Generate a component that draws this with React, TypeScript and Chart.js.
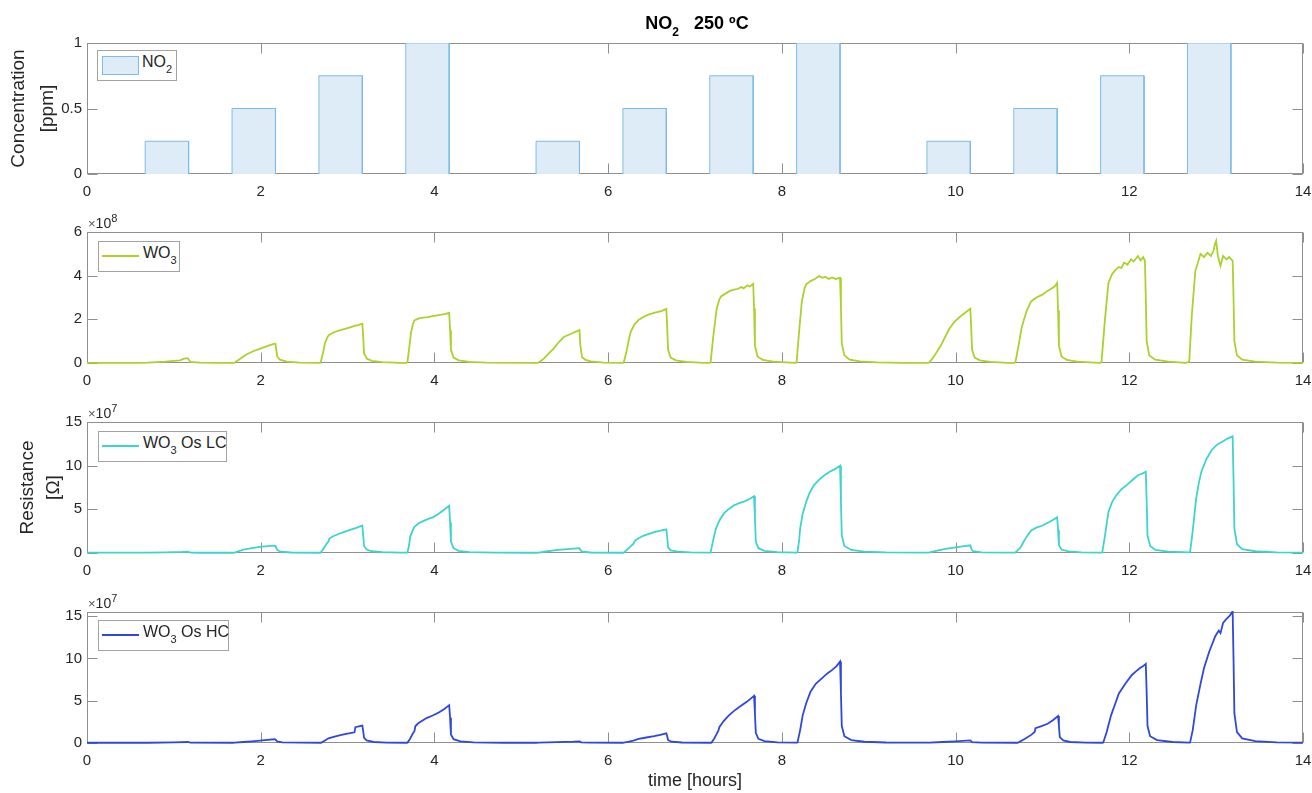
import React, { useEffect, useRef } from "react";
import { Chart, registerables } from "chart.js";

Chart.register(...registerables);
Chart.defaults.font.family = "'Liberation Sans', Arial, sans-serif";

// ---------------- data ----------------
const TIME_TICKS = [0, 2, 4, 6, 8, 10, 12, 14];
const CONC_TICKS = [0, 0.5, 1];
const WO3_TICKS = [0, 2, 4, 6];
const LC_TICKS = [0, 5, 10, 15];
const HC_TICKS = [0, 5, 10, 15];

// NO2 pulses (hours, ppm)
const NO2_START = [0.67, 1.67, 2.67, 3.67, 5.17, 6.17, 7.17, 8.17, 9.67, 10.67, 11.67, 12.67];
const NO2_END = [1.17, 2.17, 3.17, 4.17, 5.67, 6.67, 7.67, 8.67, 10.17, 11.17, 12.17, 13.17];
const NO2_PPM = [0.25, 0.5, 0.75, 1, 0.25, 0.5, 0.75, 1, 0.25, 0.5, 0.75, 1];

// WO3 resistance, x10^8 Ohm  [time h, value]
const WO3: [number, number][] = [
  [0, 0.01], [0.6, 0.01], [0.7, 0.02], [0.9, 0.06], [1.07, 0.12], [1.12, 0.2], [1.16, 0.22], [1.19, 0.05], [1.3, 0.02], [1.5, 0.01], [1.68, 0.01],
  [1.7, 0.02], [1.76, 0.18], [1.83, 0.38], [1.92, 0.55], [1.99, 0.65], [2.08, 0.78], [2.16, 0.89], [2.17, 0.88], [2.19, 0.3], [2.22, 0.15], [2.3, 0.06], [2.45, 0.02], [2.68, 0.01],
  [2.69, 0.02], [2.72, 0.5], [2.74, 0.92], [2.77, 1.2], [2.79, 1.3], [2.85, 1.42], [2.91, 1.49], [2.96, 1.55], [3.02, 1.62], [3.08, 1.7], [3.12, 1.74], [3.17, 1.8], [3.18, 1.2], [3.19, 0.45], [3.22, 0.2], [3.28, 0.1], [3.4, 0.04], [3.6, 0.01], [3.68, 0.01],
  [3.69, 0.05], [3.71, 0.7], [3.73, 1.38], [3.75, 1.75], [3.77, 1.95], [3.82, 2.04], [3.87, 2.08], [3.92, 2.1], [3.98, 2.15], [4.03, 2.18], [4.08, 2.22], [4.13, 2.25], [4.17, 2.3], [4.18, 1.5], [4.19, 0.6], [4.22, 0.25], [4.28, 0.12], [4.4, 0.05], [4.6, 0.02], [5.17, 0.01],
  [5.2, 0.02], [5.26, 0.2], [5.32, 0.45], [5.37, 0.65], [5.43, 0.95], [5.49, 1.19], [5.58, 1.35], [5.66, 1.49], [5.67, 1.5], [5.68, 0.8], [5.7, 0.26], [5.74, 0.14], [5.8, 0.07], [5.95, 0.02], [6.17, 0.01],
  [6.18, 0.03], [6.21, 0.5], [6.24, 1.1], [6.26, 1.43], [6.3, 1.75], [6.35, 1.97], [6.41, 2.12], [6.47, 2.23], [6.55, 2.32], [6.62, 2.39], [6.67, 2.48], [6.68, 1.6], [6.69, 0.6], [6.72, 0.25], [6.78, 0.12], [6.9, 0.05], [7.1, 0.01], [7.17, 0.01],
  [7.18, 0.05], [7.21, 1.2], [7.25, 2.5], [7.28, 2.9], [7.3, 3.05], [7.36, 3.2], [7.4, 3.3], [7.45, 3.36], [7.5, 3.4], [7.53, 3.48], [7.56, 3.42], [7.6, 3.55], [7.63, 3.5], [7.67, 3.63], [7.68, 2.5], [7.69, 0.8], [7.72, 0.3], [7.78, 0.14], [7.9, 0.06], [8.1, 0.02], [8.16, 0.01],
  [8.17, 0.05], [8.2, 1.5], [8.23, 2.82], [8.26, 3.4], [8.28, 3.6], [8.33, 3.75], [8.38, 3.85], [8.43, 3.98], [8.47, 3.9], [8.5, 3.95], [8.54, 3.85], [8.58, 3.92], [8.62, 3.85], [8.67, 3.9], [8.68, 2.6], [8.69, 0.9], [8.72, 0.35], [8.78, 0.15], [8.9, 0.07], [9.1, 0.03], [9.4, 0.01], [9.68, 0.01],
  [9.7, 0.03], [9.76, 0.35], [9.83, 0.8], [9.88, 1.2], [9.93, 1.58], [9.99, 1.9], [10.05, 2.12], [10.11, 2.3], [10.17, 2.48], [10.18, 1.6], [10.19, 0.6], [10.22, 0.25], [10.28, 0.12], [10.4, 0.05], [10.6, 0.01], [10.68, 0.01],
  [10.69, 0.05], [10.73, 0.9], [10.76, 1.6], [10.78, 1.89], [10.82, 2.4], [10.87, 2.82], [10.93, 3.0], [11.0, 3.13], [11.05, 3.28], [11.1, 3.4], [11.14, 3.5], [11.17, 3.67], [11.18, 2.4], [11.19, 0.8], [11.22, 0.3], [11.28, 0.14], [11.4, 0.06], [11.6, 0.02], [11.67, 0.01],
  [11.68, 0.05], [11.72, 2.0], [11.76, 3.67], [11.8, 4.06], [11.84, 4.25], [11.88, 4.4], [11.91, 4.35], [11.94, 4.6], [11.98, 4.5], [12.02, 4.75], [12.05, 4.65], [12.1, 4.9], [12.13, 4.7], [12.16, 4.85], [12.18, 4.68], [12.19, 3.0], [12.2, 1.0], [12.23, 0.35], [12.3, 0.15], [12.45, 0.06], [12.65, 0.01],
  [12.69, 0.05], [12.72, 2.2], [12.76, 4.2], [12.82, 5.0], [12.86, 4.85], [12.9, 5.05], [12.94, 4.9], [12.97, 5.15], [12.99, 5.5], [13.0, 5.6], [13.02, 4.9], [13.05, 4.45], [13.08, 4.9], [13.12, 4.75], [13.15, 4.85], [13.19, 4.68], [13.2, 3.0], [13.21, 1.0], [13.24, 0.35], [13.3, 0.15], [13.45, 0.06], [13.7, 0.02], [14, 0.01],
];

// WO3 Os LC resistance, x10^7 Ohm
const WO3_OS_LC: [number, number][] = [
  [0, 0.05], [0.7, 0.05], [0.9, 0.08], [1.1, 0.12], [1.16, 0.15], [1.19, 0.05], [1.3, 0.03], [1.68, 0.03],
  [1.7, 0.05], [1.8, 0.38], [1.9, 0.55], [1.99, 0.69], [2.08, 0.78], [2.16, 0.85], [2.17, 0.8], [2.19, 0.35], [2.23, 0.15], [2.35, 0.06], [2.68, 0.03],
  [2.69, 0.05], [2.73, 0.6], [2.76, 1.08], [2.78, 1.3], [2.79, 1.65], [2.84, 1.95], [2.91, 2.23], [2.97, 2.45], [3.02, 2.62], [3.1, 2.88], [3.17, 3.15], [3.18, 2.0], [3.19, 0.8], [3.22, 0.4], [3.28, 0.2], [3.4, 0.1], [3.6, 0.05], [3.68, 0.04],
  [3.69, 0.1], [3.71, 1.0], [3.72, 1.85], [3.75, 2.6], [3.77, 3.0], [3.82, 3.4], [3.87, 3.65], [3.93, 3.9], [3.98, 4.08], [4.05, 4.5], [4.11, 4.95], [4.17, 5.4], [4.18, 3.5], [4.19, 1.3], [4.22, 0.55], [4.28, 0.25], [4.4, 0.1], [4.7, 0.04], [5.17, 0.03],
  [5.2, 0.05], [5.3, 0.2], [5.4, 0.32], [5.5, 0.42], [5.6, 0.5], [5.67, 0.55], [5.68, 0.35], [5.7, 0.15], [5.8, 0.06], [6.17, 0.03],
  [6.18, 0.05], [6.23, 0.5], [6.29, 1.04], [6.31, 1.42], [6.35, 1.7], [6.41, 2.0], [6.47, 2.2], [6.53, 2.38], [6.6, 2.55], [6.67, 2.7], [6.68, 1.8], [6.69, 0.65], [6.72, 0.3], [6.8, 0.15], [6.95, 0.07], [7.17, 0.04],
  [7.18, 0.1], [7.21, 1.5], [7.24, 2.77], [7.28, 3.7], [7.33, 4.5], [7.39, 5.05], [7.45, 5.46], [7.51, 5.72], [7.57, 5.92], [7.62, 6.15], [7.68, 6.5], [7.69, 4.0], [7.7, 1.3], [7.73, 0.55], [7.8, 0.25], [7.95, 0.1], [8.17, 0.05],
  [8.18, 0.1], [8.2, 1.5], [8.21, 2.77], [8.24, 4.5], [8.28, 5.85], [8.32, 6.9], [8.37, 7.77], [8.43, 8.4], [8.49, 8.9], [8.55, 9.3], [8.61, 9.6], [8.67, 10.0], [8.68, 6.0], [8.69, 2.0], [8.72, 0.8], [8.8, 0.35], [8.95, 0.15], [9.2, 0.07], [9.69, 0.05],
  [9.7, 0.06], [9.8, 0.3], [9.9, 0.5], [10.02, 0.68], [10.1, 0.78], [10.17, 0.88], [10.18, 0.5], [10.2, 0.2], [10.3, 0.08], [10.68, 0.05],
  [10.69, 0.06], [10.72, 0.35], [10.75, 0.65], [10.78, 1.23], [10.82, 1.9], [10.87, 2.58], [10.93, 2.9], [11.0, 3.15], [11.08, 3.55], [11.17, 4.08], [11.18, 2.6], [11.19, 0.9], [11.22, 0.4], [11.3, 0.18], [11.45, 0.08], [11.68, 0.05],
  [11.69, 0.1], [11.72, 2.0], [11.76, 4.7], [11.8, 5.8], [11.85, 6.6], [11.91, 7.3], [11.97, 7.77], [12.03, 8.3], [12.1, 8.9], [12.15, 9.1], [12.19, 9.3], [12.2, 6.0], [12.21, 2.0], [12.24, 0.8], [12.3, 0.35], [12.45, 0.15], [12.69, 0.07],
  [12.7, 0.1], [12.73, 2.5], [12.77, 6.23], [12.8, 8.0], [12.83, 9.3], [12.89, 10.8], [12.95, 11.8], [13.01, 12.4], [13.08, 12.8], [13.13, 13.1], [13.19, 13.35], [13.2, 8.5], [13.21, 2.8], [13.24, 1.0], [13.3, 0.45], [13.45, 0.2], [13.7, 0.08], [14, 0.05],
];

// WO3 Os HC resistance, x10^7 Ohm
const WO3_OS_HC: [number, number][] = [
  [0, 0.03], [0.7, 0.03], [1.0, 0.08], [1.16, 0.12], [1.19, 0.05], [1.68, 0.03],
  [1.7, 0.04], [1.8, 0.12], [1.9, 0.2], [1.99, 0.28], [2.08, 0.36], [2.16, 0.44], [2.17, 0.4], [2.19, 0.2], [2.25, 0.08], [2.69, 0.03],
  [2.7, 0.05], [2.74, 0.3], [2.78, 0.56], [2.85, 0.75], [2.93, 0.95], [3.0, 1.1], [3.08, 1.27], [3.09, 1.87], [3.13, 1.98], [3.17, 2.06], [3.18, 1.4], [3.19, 0.6], [3.22, 0.3], [3.3, 0.12], [3.45, 0.05], [3.68, 0.03],
  [3.69, 0.05], [3.72, 0.5], [3.75, 1.1], [3.77, 1.4], [3.78, 1.98], [3.81, 2.3], [3.85, 2.58], [3.91, 2.95], [3.98, 3.25], [4.05, 3.6], [4.11, 4.0], [4.17, 4.48], [4.18, 3.0], [4.19, 1.0], [4.22, 0.45], [4.3, 0.2], [4.45, 0.08], [4.8, 0.03], [5.17, 0.03],
  [5.2, 0.04], [5.4, 0.1], [5.6, 0.16], [5.67, 0.2], [5.69, 0.08], [5.8, 0.04], [6.17, 0.03],
  [6.18, 0.04], [6.24, 0.15], [6.29, 0.28], [6.35, 0.48], [6.44, 0.65], [6.53, 0.8], [6.6, 0.95], [6.67, 1.15], [6.68, 0.8], [6.69, 0.35], [6.73, 0.15], [6.85, 0.06], [7.18, 0.03],
  [7.19, 0.05], [7.22, 0.5], [7.25, 1.07], [7.27, 1.5], [7.28, 1.87], [7.33, 2.6], [7.39, 3.27], [7.45, 3.8], [7.51, 4.26], [7.6, 4.9], [7.68, 5.58], [7.69, 3.5], [7.7, 1.2], [7.73, 0.5], [7.8, 0.22], [7.95, 0.08], [8.17, 0.04],
  [8.18, 0.06], [8.21, 1.5], [8.24, 3.27], [8.28, 4.7], [8.33, 6.06], [8.39, 7.0], [8.46, 7.65], [8.52, 8.2], [8.58, 8.65], [8.63, 9.1], [8.67, 9.64], [8.68, 6.0], [8.69, 2.0], [8.72, 0.8], [8.8, 0.35], [8.95, 0.15], [9.2, 0.06], [9.69, 0.04],
  [9.7, 0.05], [9.85, 0.12], [10.0, 0.2], [10.17, 0.3], [10.19, 0.1], [10.3, 0.05], [10.71, 0.03],
  [10.72, 0.05], [10.8, 0.5], [10.87, 0.96], [10.91, 1.3], [10.92, 1.75], [10.99, 2.0], [11.06, 2.27], [11.12, 2.7], [11.18, 3.19], [11.19, 2.0], [11.2, 0.7], [11.24, 0.3], [11.32, 0.12], [11.5, 0.05], [11.69, 0.03],
  [11.7, 0.05], [11.74, 1.3], [11.79, 3.27], [11.84, 4.7], [11.88, 5.86], [11.96, 7.1], [12.03, 8.05], [12.08, 8.5], [12.12, 8.84], [12.16, 9.1], [12.19, 9.36], [12.2, 6.0], [12.21, 2.0], [12.24, 0.8], [12.32, 0.35], [12.5, 0.12], [12.69, 0.05],
  [12.7, 0.06], [12.73, 1.5], [12.77, 4.46], [12.82, 7.0], [12.86, 8.84], [12.92, 10.8], [12.99, 12.63], [13.03, 13.3], [13.05, 13.0], [13.08, 14.2], [13.12, 14.7], [13.16, 15.1], [13.19, 15.6], [13.2, 10.0], [13.21, 3.5], [13.24, 1.3], [13.3, 0.55], [13.45, 0.22], [13.7, 0.08], [14, 0.04],
];

// ---------------- styling ----------------
const AXIS_COLOR = "#8f8f8f";
const TEXT_COLOR = "#262626";
const TICK_LEN = 10;
const FONT = "'Liberation Sans', Arial, sans-serif";
const C_NO2_FILL = "#deecf8";
const C_NO2_EDGE = "#7fbbe4";
const C_WO3 = "#a9d22c";
const C_LC = "#3ed4cb";
const C_HC = "#2f47da";

const framePlugin = {
  id: "matlabFrame",
  beforeDatasetsDraw(chart: any) {
    const { ctx, chartArea: a } = chart;
    const xs = chart.scales.x;
    const ys = chart.scales.y;
    const L = Math.round(a.left) + 0.5;
    const R = Math.round(a.right) - 0.5;
    const T = Math.round(a.top) + 0.5;
    const B = Math.round(a.bottom) - 0.5;
    ctx.save();
    ctx.strokeStyle = AXIS_COLOR;
    ctx.lineWidth = 1;
    ctx.strokeRect(L, T, R - L, B - T);
    ctx.beginPath();
    xs.ticks.forEach((t: any) => {
      const px = Math.round(xs.getPixelForValue(t.value)) + 0.5;
      ctx.moveTo(px, B);
      ctx.lineTo(px, B - TICK_LEN);
      ctx.moveTo(px, T);
      ctx.lineTo(px, T + TICK_LEN);
    });
    ys.ticks.forEach((t: any) => {
      const py = Math.round(ys.getPixelForValue(t.value)) + 0.5;
      ctx.moveTo(L, py);
      ctx.lineTo(L + TICK_LEN, py);
      ctx.moveTo(R, py);
      ctx.lineTo(R - TICK_LEN, py);
    });
    ctx.stroke();
    ctx.restore();
  },
};

type PanelSpec = {
  top: number;
  height: number;
  padTop: number;
  xAxisH: number;
  yMax: number;
  yTicks: number[];
  datasets: any[];
  yTitle?: { text: string[]; pad: number; lh: number };
  xTitle?: string;
};

function lineDataset(label: string, pts: [number, number][], color: string) {
  return {
    label,
    data: pts.map(([t, v]) => ({ x: t, y: v })),
    borderColor: color,
    borderWidth: 1.8,
    pointRadius: 0,
    fill: false,
    tension: 0,
    clip: { left: 0, top: 1, right: 0, bottom: 3 },
  };
}

function no2Dataset() {
  const pts: any[] = [];
  NO2_START.forEach((s, i) => {
    const e = NO2_END[i];
    const c = NO2_PPM[i];
    pts.push({ x: s, y: 0 }, { x: s, y: c }, { x: e, y: c }, { x: e, y: 0 }, { x: e, y: null });
  });
  return {
    label: "NO2",
    data: pts,
    borderColor: C_NO2_EDGE,
    backgroundColor: C_NO2_FILL,
    borderWidth: 1,
    pointRadius: 0,
    fill: "origin",
    spanGaps: false,
    tension: 0,
    clip: 0,
  };
}

function buildOptions(p: PanelSpec) {
  const tickFont = { family: FONT, size: 15 };
  return {
    responsive: false,
    maintainAspectRatio: false,
    animation: false,
    events: [],
    layout: { padding: { top: p.padTop, right: 9, bottom: 0, left: 0 } },
    plugins: { legend: { display: false }, tooltip: { enabled: false }, title: { display: false } },
    scales: {
      x: {
        type: "linear",
        min: 0,
        max: 14,
        afterBuildTicks: (ax: any) => {
          ax.ticks = TIME_TICKS.map((v) => ({ value: v }));
        },
        afterFit: (s: any) => {
          s.height = p.xAxisH;
          s.paddingLeft = 0;
          s.paddingRight = 0;
        },
        grid: { display: false, drawTicks: false, tickLength: 0 },
        border: { display: false },
        ticks: {
          padding: 9,
          color: TEXT_COLOR,
          font: tickFont,
          maxRotation: 0,
          autoSkip: false,
          callback: (v: any) => String(v),
        },
        title: p.xTitle
          ? { display: true, text: p.xTitle, color: TEXT_COLOR, font: { family: FONT, size: 18, lineHeight: 1.2 }, padding: { top: 0, bottom: 1 } }
          : { display: false },
      },
      y: {
        type: "linear",
        min: 0,
        max: p.yMax,
        afterBuildTicks: (ax: any) => {
          ax.ticks = p.yTicks.map((v) => ({ value: v }));
        },
        afterFit: (s: any) => {
          s.width = 87;
          s.paddingTop = 0;
          s.paddingBottom = 0;
        },
        grid: { display: false, drawTicks: false, tickLength: 0 },
        border: { display: false },
        ticks: { padding: 5, color: TEXT_COLOR, font: tickFont, autoSkip: false, callback: (v: any) => String(v) },
        title: p.yTitle
          ? { display: true, text: p.yTitle.text, color: TEXT_COLOR, font: { family: FONT, size: 19, lineHeight: p.yTitle.lh }, padding: { top: p.yTitle.pad, bottom: 0 } }
          : { display: false },
      },
    },
  };
}

function ChartPanel({ spec }: { spec: PanelSpec }) {
  const ref = useRef<HTMLCanvasElement>(null);
  useEffect(() => {
    const chart = new Chart(ref.current as HTMLCanvasElement, {
      type: "line",
      data: { datasets: spec.datasets },
      options: buildOptions(spec) as any,
      plugins: [framePlugin],
    });
    return () => chart.destroy();
  }, []);
  return (
    <canvas
      ref={ref}
      width={1312}
      height={spec.height}
      style={{ position: "absolute", left: 0, top: spec.top, width: 1312, height: spec.height }}
    />
  );
}

function Legend({ left, top, width, kind, color, children }: any) {
  return (
    <div
      style={{
        position: "absolute",
        left,
        top,
        width,
        height: 31,
        boxSizing: "border-box",
        border: "1px solid #a3a3a3",
        background: "#ffffff",
        fontFamily: FONT,
        color: TEXT_COLOR,
      }}
    >
      {kind === "patch" ? (
        <div
          style={{
            position: "absolute",
            left: 4,
            top: 5,
            width: 37,
            height: 19,
            boxSizing: "border-box",
            background: C_NO2_FILL,
            border: `1px solid ${C_NO2_EDGE}`,
          }}
        />
      ) : (
        <div style={{ position: "absolute", left: 3, top: 13, width: 37, height: 2, background: color }} />
      )}
      <div style={{ position: "absolute", left: 44, top: 2.5, fontSize: 16, lineHeight: "16px", whiteSpace: "nowrap" }}>
        {children}
      </div>
    </div>
  );
}

const Sub = ({ children }: any) => (
  <span style={{ fontSize: 11, position: "relative", top: 6 }}>{children}</span>
);

function Exponent({ top, exp }: { top: number; exp: number }) {
  return (
    <div
      style={{
        position: "absolute",
        left: 88,
        top,
        fontFamily: FONT,
        fontSize: 14,
        lineHeight: "14px",
        color: TEXT_COLOR,
        whiteSpace: "nowrap",
      }}
    >
      <span style={{ fontSize: 13, color: "#555" }}>×</span>10
      <span style={{ fontSize: 11, position: "relative", top: -6 }}>{exp}</span>
    </div>
  );
}

export default function App() {
  const panels: PanelSpec[] = [
    {
      top: 0,
      height: 200,
      padTop: 43,
      xAxisH: 26,
      yMax: 1,
      yTicks: CONC_TICKS,
      datasets: [no2Dataset()],
      yTitle: { text: ["Concentration", "[ppm]"], pad: 5, lh: 1.5 },
    },
    {
      top: 200,
      height: 190,
      padTop: 32,
      xAxisH: 27,
      yMax: 6,
      yTicks: WO3_TICKS,
      datasets: [lineDataset("WO3", WO3, C_WO3)],
    },
    {
      top: 390,
      height: 190,
      padTop: 32,
      xAxisH: 27,
      yMax: 15,
      yTicks: LC_TICKS,
      datasets: [lineDataset("WO3 Os LC", WO3_OS_LC, C_LC)],
      yTitle: { text: ["Resistance", "[Ω]"], pad: 14, lh: 1.4 },
    },
    {
      top: 580,
      height: 213,
      padTop: 32,
      xAxisH: 50,
      yMax: 15.5,
      yTicks: HC_TICKS,
      datasets: [lineDataset("WO3 Os HC", WO3_OS_HC, C_HC)],
      xTitle: "time [hours]",
    },
  ];

  return (
    <div style={{ position: "fixed", left: 0, top: 0, width: 1312, height: 793, background: "#ffffff", overflow: "hidden" }}>
      {panels.map((p, i) => (
        <ChartPanel key={i} spec={p} />
      ))}
      <div
        style={{
          position: "absolute",
          left: 597,
          width: 200,
          top: 14,
          textAlign: "center",
          fontFamily: FONT,
          fontWeight: "bold",
          fontSize: 18,
          lineHeight: "18px",
          color: "#000",
          whiteSpace: "pre",
        }}
      >
        NO<span style={{ fontSize: 12, position: "relative", top: 7 }}>2</span>{"   250 ºC"}
      </div>
      <Legend left={97} top={50} width={80} kind="patch">
        NO<Sub>2</Sub>
      </Legend>
      <Legend left={98} top={241} width={82} kind="line" color={C_WO3}>
        WO<Sub>3</Sub>
      </Legend>
      <Legend left={98} top={431} width={129} kind="line" color={C_LC}>
        WO<Sub>3</Sub> Os LC
      </Legend>
      <Legend left={98} top={620} width={131} kind="line" color={C_HC}>
        WO<Sub>3</Sub> Os HC
      </Legend>
      <Exponent top={216} exp={8} />
      <Exponent top={406} exp={7} />
      <Exponent top={596} exp={7} />
    </div>
  );
}
